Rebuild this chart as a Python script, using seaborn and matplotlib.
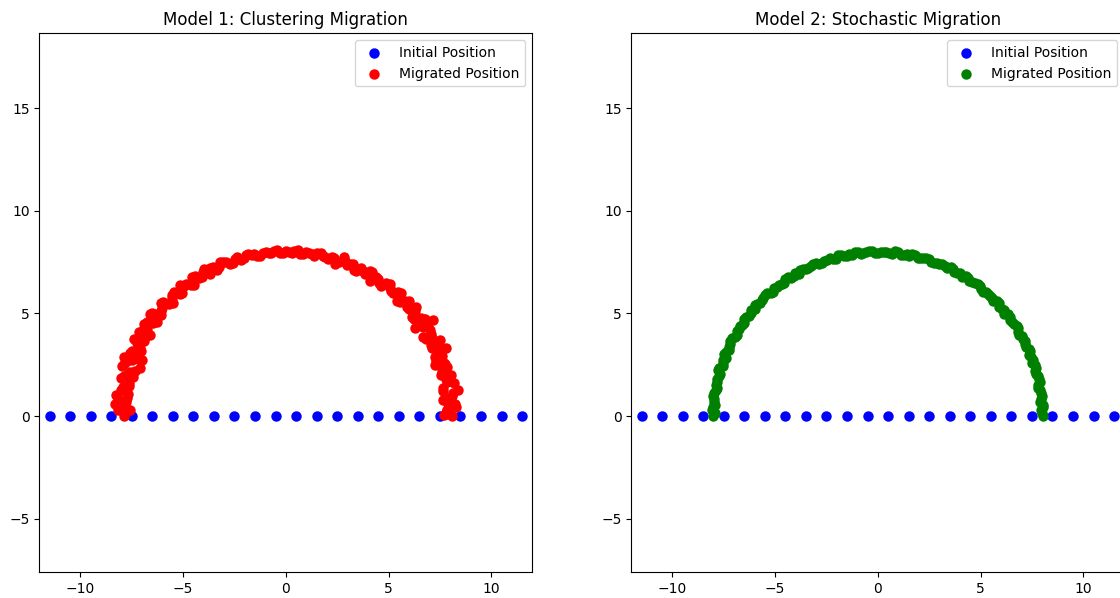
import matplotlib
matplotlib.use("Agg")
import matplotlib.pyplot as plt
import seaborn as sns
import pandas as pd

# ---------------- data ----------------
init_x = [-11.5, -10.5, -9.5, -8.5, -7.5, -6.5, -5.5, -4.5, -3.5, -2.5, -1.5, -0.5,
          0.5, 1.5, 2.5, 3.5, 4.5, 5.5, 6.5, 7.5, 8.5, 9.5, 10.5, 11.5]
init_y = [0.0] * 24

# Model 1 migrated positions (noisy arc)
m1a_x = [8.10, 7.85, 8.23, 7.91, 8.12, 7.63, 7.87, 8.05, 7.59, 7.75, 7.33, 7.42, 7.51, 7.08, 7.13,
         6.69, 6.94, 6.62, 6.57, 6.16, 6.33, 5.89, 5.78, 5.40, 5.45, 5.12, 5.05, 4.62, 4.51, 4.11,
         4.08, 3.77, 3.44, 3.29, 2.97, 2.82, 2.41, 2.23, 1.93, 1.69, 1.37, 1.12, 0.83, 0.57, 0.28,
         0.00, -0.28, -0.56, -0.83, -1.12, -1.38, -1.67, -1.96, -2.19, -2.48, -2.70, -3.04, -3.24,
         -3.54, -3.69, -4.05, -4.21, -4.56, -4.64, -4.96, -5.03, -5.45, -5.56, -5.67, -6.09, -6.08,
         -6.38, -6.29, -6.76, -6.77, -7.14, -6.92, -7.26, -7.07, -7.58, -7.48, -7.87, -7.58, -7.90,
         -7.63, -7.94, -7.68, -8.17, -7.90, -8.15, -7.90]
m1a_y = [0.00, 0.27, 0.58, 0.83, 1.14, 1.35, 1.67, 2.01, 2.18, 2.52, 2.67, 3.00, 3.34, 3.45, 3.79,
         3.86, 4.33, 4.46, 4.77, 4.81, 5.31, 5.30, 5.59, 5.60, 6.05, 6.10, 6.46, 6.36, 6.68, 6.58,
         7.07, 7.08, 7.05, 7.40, 7.36, 7.74, 7.42, 7.77, 7.74, 7.94, 7.78, 7.96, 7.88, 8.08, 7.96,
         8.06, 7.94, 8.06, 7.94, 7.96, 7.80, 7.84, 7.86, 7.63, 7.65, 7.42, 7.53, 7.27, 7.26, 6.94,
         7.01, 6.73, 6.76, 6.39, 6.35, 5.99, 6.05, 5.75, 5.47, 5.49, 5.10, 4.99, 4.57, 4.56, 4.23,
         4.12, 3.68, 3.54, 3.15, 3.06, 2.72, 2.56, 2.17, 1.97, 1.62, 1.40, 1.08, 0.86, 0.55, 0.28,
         0.00]
m1b_x = [7.80, 8.29, 7.87, 8.09, 7.65, 8.20, 7.80, 7.55, 7.86, 7.28, 7.58, 7.62, 7.12, 7.18, 6.80,
         7.01, 6.66, 6.77, 6.26, 6.29, 6.01, 5.95, 5.57, 5.59, 5.20, 5.05, 4.89, 4.53, 4.39, 4.20,
         3.85, 3.67, 3.33, 3.14, 2.90, 2.59, 2.36, 2.05, 1.80, 1.54, 1.25, 0.98, 0.69, 0.42, 0.14,
         -0.14, -0.42, -0.70, -0.98, -1.24, -1.53, -1.82, -2.06, -2.37, -2.57, -2.89, -3.18, -3.33,
         -3.67, -3.97, -4.08, -4.42, -4.49, -4.84, -5.17, -5.16, -5.52, -5.49, -5.97, -6.05, -6.06,
         -6.60, -6.47, -6.88, -6.62, -7.07, -7.40, -7.11, -7.47, -7.19, -7.73, -7.98, -7.67, -8.03,
         -7.64, -8.00, -8.26, -7.79, -8.19, -7.88]
m1b_y = [0.14, 0.43, 0.69, 0.99, 1.21, 1.59, 1.80, 2.02, 2.40, 2.51, 2.91, 3.24, 3.32, 3.66, 3.77,
         4.21, 4.32, 4.74, 4.72, 5.10, 5.22, 5.55, 5.57, 6.00, 5.98, 6.23, 6.48, 6.47, 6.76, 7.00,
         6.94, 7.20, 7.14, 7.40, 7.56, 7.53, 7.71, 7.67, 7.81, 7.93, 7.88, 7.98, 7.91, 8.05, 8.00,
         7.96, 8.07, 7.95, 8.00, 7.82, 7.89, 7.89, 7.69, 7.77, 7.47, 7.52, 7.49, 7.14, 7.20, 7.15,
         6.79, 6.81, 6.41, 6.42, 6.39, 5.93, 5.92, 5.49, 5.57, 5.26, 4.91, 4.97, 4.53, 4.47, 3.97,
         3.92, 3.77, 3.31, 3.17, 2.76, 2.66, 2.44, 2.05, 1.85, 1.48, 1.27, 1.01, 0.68, 0.43, 0.14]
m1c_x = [-7.01, -7.09, -6.85, 7.18, 6.29, 7.50, 8.39, 7.66, -8.30, -7.60, 7.70, 7.95, -7.35,
         -7.75, -7.45, -7.90, -7.25, -6.95, -6.50, 7.95, 7.70, 7.25, 7.80, 7.05, 6.70, 6.00,
         8.05, 7.85]
m1c_y = [2.73, 2.34, 3.87, 4.68, 4.27, 3.70, 1.27, 0.78, 0.60, 0.30, 0.05, 0.10, 2.20,
         0.90, 1.90, 2.90, 3.10, 4.20, 5.00, 1.70, 2.60, 2.90, 3.30, 4.00, 4.75, 5.60,
         0.45, 0.30]

# Model 2 migrated positions (tight arc)
m2a_x = [8.04, 7.95, 8.05, 7.94, 7.92, 7.81, 7.87, 7.78, 7.65, 7.67, 7.56, 7.37, 7.37, 7.17, 7.06,
         6.87, 6.83, 6.65, 6.44, 6.35, 6.16, 5.91, 5.80, 5.54, 5.35, 5.10, 4.96, 4.71, 4.45, 4.27,
         4.02, 3.73, 3.54, 3.25, 3.00, 2.71, 2.49, 2.21, 1.93, 1.68, 1.40, 1.11, 0.84, 0.56, 0.28,
         0.00, -0.28, -0.56, -0.83, -1.12, -1.40, -1.65, -1.95, -2.20, -2.47, -2.71, -3.02, -3.26,
         -3.49, -3.78, -4.02, -4.21, -4.51, -4.69, -4.93, -5.10, -5.39, -5.57, -5.73, -5.99, -6.16,
         -6.26, -6.53, -6.62, -6.78, -6.87, -7.11, -7.21, -7.27, -7.47, -7.56, -7.56, -7.76, -7.74,
         -7.83, -7.81, -7.97, -7.98, -7.94, -8.06, -8.04]
m2a_y = [0.00, 0.28, 0.56, 0.83, 1.11, 1.38, 1.67, 1.94, 2.19, 2.49, 2.75, 2.98, 3.28, 3.50, 3.76,
         3.97, 4.27, 4.48, 4.68, 4.96, 5.17, 5.32, 5.61, 5.74, 5.94, 6.07, 6.34, 6.49, 6.60, 6.83,
         6.96, 7.02, 7.25, 7.29, 7.42, 7.45, 7.66, 7.71, 7.72, 7.88, 7.92, 7.87, 8.03, 7.96, 8.00,
         7.93, 8.05, 8.00, 7.92, 7.98, 7.92, 7.78, 7.83, 7.67, 7.61, 7.45, 7.46, 7.33, 7.15, 7.12,
         6.96, 6.74, 6.69, 6.46, 6.30, 6.07, 5.98, 5.77, 5.53, 5.39, 5.17, 4.89, 4.74, 4.46, 4.24,
         3.97, 3.78, 3.52, 3.24, 3.02, 2.75, 2.46, 2.22, 1.93, 1.66, 1.38, 1.12, 0.84, 0.56, 0.28,
         0.00]
m2b_x = [7.97, 8.05, 7.91, 7.97, 7.91, 7.81, 7.86, 7.72, 7.69, 7.50, 7.44, 7.42, 7.20, 7.15, 7.01,
         6.82, 6.77, 6.55, 6.42, 6.16, 6.02, 5.90, 5.61, 5.48, 5.26, 5.01, 4.86, 4.58, 4.38, 4.08,
         3.86, 3.66, 3.36, 3.14, 2.87, 2.59, 2.36, 2.07, 1.81, 1.51, 1.25, 0.98, 0.69, 0.42, 0.14,
         -0.14, -0.42, -0.70, -0.98, -1.24, -1.52, -1.81, -2.05, -2.35, -2.61, -2.85, -3.15, -3.38,
         -3.65, -3.84, -4.10, -4.39, -4.55, -4.83, -5.04, -5.22, -5.50, -5.65, -5.88, -5.98, -6.19,
         -6.44, -6.50, -6.73, -6.87, -6.96, -7.19, -7.24, -7.40, -7.40, -7.54, -7.71, -7.67, -7.82,
         -7.86, -7.86, -8.01, -7.96, -8.03, -7.93]
m2b_y = [0.14, 0.42, 0.69, 0.98, 1.25, 1.52, 1.82, 2.07, 2.35, 2.58, 2.86, 3.15, 3.36, 3.65, 3.88,
         4.10, 4.39, 4.58, 4.84, 4.99, 5.23, 5.50, 5.61, 5.87, 6.05, 6.19, 6.44, 6.55, 6.74, 6.80,
         6.97, 7.18, 7.20, 7.39, 7.48, 7.53, 7.72, 7.72, 7.83, 7.78, 7.87, 8.00, 7.91, 8.02, 8.01,
         7.96, 8.06, 7.96, 7.98, 7.83, 7.82, 7.85, 7.67, 7.68, 7.57, 7.43, 7.43, 7.24, 7.16, 6.94,
         6.83, 6.76, 6.50, 6.41, 6.22, 6.01, 5.90, 5.65, 5.48, 5.20, 5.02, 4.85, 4.55, 4.37, 4.13,
         3.86, 3.66, 3.38, 3.14, 2.84, 2.59, 2.36, 2.06, 1.81, 1.53, 1.25, 0.98, 0.70, 0.42, 0.14]

titles = ["Model 1: Clustering Migration", "Model 2: Stochastic Migration"]
legend_labels = ["Initial Position", "Migrated Position"]

# ---------------- frames ----------------
init_df = pd.DataFrame({"x": init_x, "y": init_y})
m1_df = pd.DataFrame({"x": m1a_x + m1b_x + m1c_x, "y": m1a_y + m1b_y + m1c_y})
m2_df = pd.DataFrame({"x": m2a_x + m2b_x, "y": m2a_y + m2b_y})

# ---------------- figure ----------------
plt.rcdefaults()
fig = plt.figure(figsize=(11.2, 5.98), dpi=100)
ax1 = fig.add_axes([0.0351, 0.0430, 0.4402, 0.9013])
ax2 = fig.add_axes([0.5637, 0.0430, 0.4402, 0.9013])

for ax, df, col, title in [(ax1, m1_df, "red", titles[0]), (ax2, m2_df, "green", titles[1])]:
    sns.scatterplot(data=init_df, x="x", y="y", color="blue", s=36, linewidth=1.5,
                    edgecolor="blue", label=legend_labels[0], ax=ax)
    sns.scatterplot(data=df, x="x", y="y", color=col, s=36, linewidth=1.5,
                    edgecolor=col, label=legend_labels[1], ax=ax)
    ax.set_xlim(-12, 12)
    ax.set_ylim(-7.62, 18.66)
    ax.set_xlabel("")
    ax.set_ylabel("")
    ax.set_title(title, fontsize=12)
    ax.legend(loc="upper right")

fig.savefig("out.png", dpi=100)
